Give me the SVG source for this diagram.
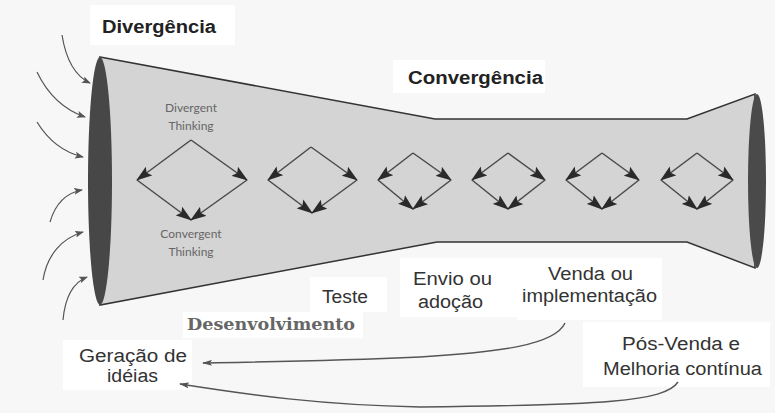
<svg xmlns="http://www.w3.org/2000/svg" width="775" height="413" viewBox="0 0 775 413">
<defs>
<marker id="dh" markerUnits="userSpaceOnUse" markerWidth="16" markerHeight="12" refX="15" refY="6" orient="auto">
<path d="M0,0.5 L16,6 L0,11.5 L3,6 Z" fill="#2a2a2a"/>
</marker>
<marker id="sh" markerUnits="userSpaceOnUse" markerWidth="9" markerHeight="7" refX="8" refY="3.5" orient="auto">
<path d="M0,0 L9,3.5 L0,7 L2,3.5 Z" fill="#555"/>
</marker>
<marker id="bh" markerUnits="userSpaceOnUse" markerWidth="10" markerHeight="6" refX="9" refY="3" orient="auto">
<path d="M0,0 L10,3 L0,6 L2,3 Z" fill="#555"/>
</marker>
<style>
.lbl{font-family:"Liberation Sans",Arial,sans-serif;font-size:18px;fill:#333}
.ttl{font-family:"Liberation Sans",Arial,sans-serif;font-size:18px;font-weight:bold;fill:#222}
.thk{font-family:Lato,"Open Sans",sans-serif;font-size:12px;fill:#666;text-anchor:middle}
.dia line{stroke:#4a4a4a;stroke-width:1.5;marker-end:url(#dh)}
.inc path{fill:none;stroke:#555;stroke-width:1.2;marker-end:url(#sh)}
.back path{fill:none;stroke:#555;stroke-width:1.4;marker-end:url(#bh)}
.box{fill:#fff}
</style>
</defs>
<rect width="775" height="413" fill="#f7f7f7"/>
<g id="label-boxes">
<rect class="box" x="90" y="5" width="145" height="40"/>
<rect class="box" x="393" y="60" width="152" height="33"/>
<rect class="box" x="310" y="277" width="77" height="35"/>
<rect class="box" x="183" y="312" width="180" height="26"/>
<rect class="box" x="63" y="340" width="129" height="50"/>
<rect class="box" x="400" y="258" width="117" height="59"/>
<rect class="box" x="517" y="258" width="145" height="62"/>
<rect class="box" x="583" y="322" width="187" height="65"/>
</g>
<g id="funnel">
<path d="M100,57 L435,119 L687,119 L755,94 L755,268 L687,242 L437,242 L100,305 Z" fill="#d4d4d4" stroke="#333" stroke-width="1.5"/>
<ellipse cx="100" cy="181" rx="12" ry="124" fill="#474747"/>
<ellipse cx="757" cy="181" rx="9" ry="87" fill="#4a4a4a"/>
</g>
<g id="thinking-labels">
<text class="thk" x="191" y="112">Divergent</text>
<text class="thk" x="191" y="130">Thinking</text>
<text class="thk" x="191" y="238">Convergent</text>
<text class="thk" x="191" y="256">Thinking</text>
</g>
<g id="diamonds" class="dia">
<g id="diamond1">
<line x1="191" y1="140" x2="137" y2="180"/><line x1="191" y1="140" x2="247" y2="180"/>
<line x1="137" y1="180" x2="191" y2="220"/><line x1="247" y1="180" x2="191" y2="220"/>
</g>
<g id="diamond2">
<line x1="311" y1="147" x2="268" y2="180"/><line x1="311" y1="147" x2="357" y2="180"/>
<line x1="268" y1="180" x2="312" y2="213"/><line x1="357" y1="180" x2="312" y2="213"/>
</g>
<g id="diamond3">
<line x1="413" y1="153" x2="378" y2="180"/><line x1="413" y1="153" x2="451" y2="180"/>
<line x1="378" y1="180" x2="413" y2="209"/><line x1="451" y1="180" x2="413" y2="209"/>
</g>
<g id="diamond4">
<line x1="508" y1="153" x2="472" y2="180"/><line x1="508" y1="153" x2="545" y2="180"/>
<line x1="472" y1="180" x2="508" y2="209"/><line x1="545" y1="180" x2="508" y2="209"/>
</g>
<g id="diamond5">
<line x1="602" y1="153" x2="566" y2="180"/><line x1="602" y1="153" x2="639" y2="180"/>
<line x1="566" y1="180" x2="602" y2="209"/><line x1="639" y1="180" x2="602" y2="209"/>
</g>
<g id="diamond6">
<line x1="697" y1="153" x2="661" y2="180"/><line x1="697" y1="153" x2="733" y2="180"/>
<line x1="661" y1="180" x2="697" y2="209"/><line x1="733" y1="180" x2="697" y2="209"/>
</g>
</g>
<g id="connectors">
<g class="inc">
<path d="M62,35 C66,60 75,76 90,83"/>
<path d="M37,72 C48,95 65,110 85,117"/>
<path d="M37,122 C48,140 62,152 83,157"/>
<path d="M50,222 C55,205 65,193 82,190"/>
<path d="M43,280 C47,255 62,238 83,232"/>
<path d="M63,320 C65,298 72,283 87,277"/>
</g>
<g class="back">
<path d="M565,323 C555,345 500,352 420,357 C330,361 260,362 203,363"/>
<path d="M678,382 C665,402 600,405 420,407 C320,405 250,395 180,384"/>
</g>
</g>
<g id="divergencia"><text class="ttl" x="102" y="33" textLength="114" lengthAdjust="spacingAndGlyphs">Divergência</text></g>
<g id="convergencia"><text class="ttl" x="408" y="84" textLength="135" lengthAdjust="spacingAndGlyphs">Convergência</text></g>
<g id="teste"><text class="lbl" x="322" y="303" textLength="46" lengthAdjust="spacingAndGlyphs">Teste</text></g>
<g id="desenvolvimento"><text x="187" y="330" font-family="'DejaVu Serif','Liberation Serif',serif" font-size="17" font-weight="bold" fill="#666" textLength="168" lengthAdjust="spacingAndGlyphs">Desenvolvimento</text></g>
<g id="geracao">
<text class="lbl" x="79" y="362" textLength="108" lengthAdjust="spacingAndGlyphs">Geração de</text>
<text class="lbl" x="107" y="382" textLength="51" lengthAdjust="spacingAndGlyphs">idéias</text>
</g>
<g id="envio">
<text class="lbl" x="413" y="285" textLength="79" lengthAdjust="spacingAndGlyphs">Envio ou</text>
<text class="lbl" x="418" y="308" textLength="65" lengthAdjust="spacingAndGlyphs">adoção</text>
</g>
<g id="venda">
<text class="lbl" x="548" y="280" font-size="17" textLength="85" lengthAdjust="spacingAndGlyphs">Venda ou</text>
<text class="lbl" x="522" y="302" font-size="17" textLength="135" lengthAdjust="spacingAndGlyphs">implementação</text>
</g>
<g id="posvenda">
<text class="lbl" x="622" y="350" textLength="118" lengthAdjust="spacingAndGlyphs">Pós-Venda e</text>
<text class="lbl" x="603" y="375" textLength="159" lengthAdjust="spacingAndGlyphs">Melhoria contínua</text>
</g>
</svg>
